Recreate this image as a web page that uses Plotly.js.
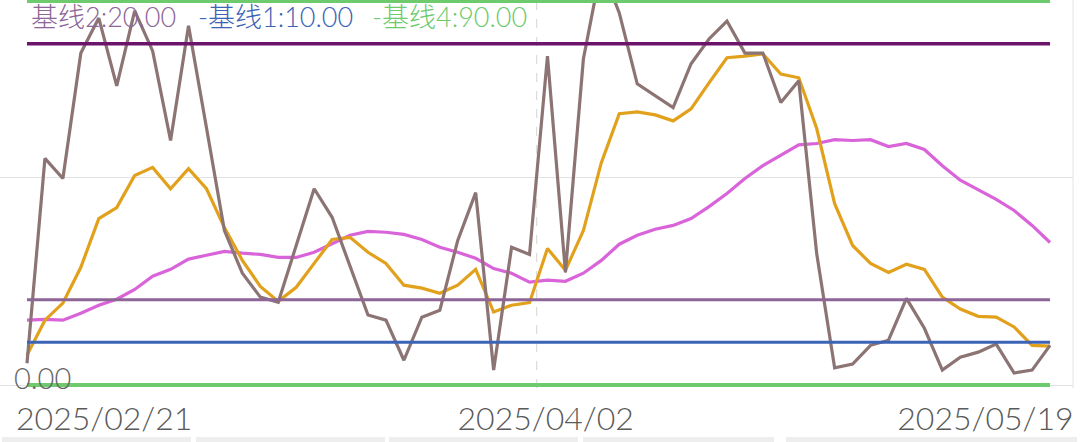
<!DOCTYPE html>
<html><head><meta charset="utf-8">
<script src="https://cdn.plot.ly/plotly-3.0.1.min.js"></script>
<style>html,body{margin:0;padding:0;background:#fff;}#chart{width:1080px;height:442px;}</style>
</head><body><div id="chart"></div>
<script>
// ---- data ----
const tickLabels = ["2025/02/21", "2025/04/02", "2025/05/19"];
const seriesBrown = [5.1,53.1,48.4,77.8,86.0,70.1,87.7,78.3,57.3,84.2,
  60.3,36.2,26.2,20.6,19.4,32.7,46.0,39.3,27.6,16.4,
  15.2,5.8,15.9,17.5,33.9,45.1,3.5,32.3,30.6,77.1,
  26.4,76.4,98.0,87.2,70.6,67.8,65.0,75.3,81.1,85.3,
  77.8,77.8,66.2,71.3,30.8,4.0,4.9,9.3,10.5,20.3,
  13.3,3.5,6.5,7.7,9.6,2.8,3.5,9.3];
const seriesOrange = [7.0,15.2,19.2,27.6,39.0,41.6,49.1,51.0,46.0,50.7,
  46.0,36.9,29.2,23.1,19.6,22.9,28.5,34.1,34.6,31.1,
  28.5,23.4,22.7,21.5,23.4,27.1,17.1,18.7,19.3,32.0,
  26.9,36.2,52.1,63.6,64.0,63.3,61.9,64.7,70.8,76.7,
  77.1,77.6,72.9,72.0,60.1,42.5,32.7,28.5,26.4,28.3,
  27.1,20.6,17.8,16.1,15.9,13.6,9.3,9.1];
const seriesMagenta = [15.2,15.4,15.2,16.8,18.7,20.1,22.4,25.5,27.1,29.5,
  30.4,31.3,30.9,30.6,29.9,29.9,31.1,33.2,35.1,36.0,
  35.8,35.3,34.1,32.3,31.1,29.7,27.3,26.2,24.1,24.6,
  24.3,26.2,29.2,33.0,35.1,36.5,37.4,39.0,41.8,44.9,
  48.4,51.4,53.8,56.3,56.6,57.5,57.3,57.5,55.9,56.6,
  55.2,51.4,48.0,45.8,43.5,40.9,37.4,33.4];
const baselineNames = ["基线1", "基线2", "基线3", "基线4", "基线0"];
const baselineValues = [10, 20, 80, 90, 0];
const legendOrder = ["基线2", "基线1", "基线4"];
const yTickLabel = "0.00";

// ---- styles ----
const FONT = "Lato, 'Noto Sans CJK SC', sans-serif";
const baselineColors = {"基线1":"#3b63b6","基线2":"#8d6597","基线3":"#6c146c","基线4":"#6dca6d","基线0":"#6dca6d"};
const baselineWidths = {"基线1":3,"基线2":3,"基线3":3.5,"基线4":4,"基线0":4};
const idx = seriesBrown.map((_, i) => i);
const n = idx.length;

const traces = [];
[[seriesMagenta, "#d964d9"], [seriesOrange, "#e2a11c"], [seriesBrown, "#8c7474"]].forEach(([s, c]) => {
  traces.push({x: idx, y: s, type: "scatter", mode: "lines", line: {color: c, width: 3.2}, showlegend: false, hoverinfo: "skip"});
});
baselineNames.forEach((nm, i) => {
  traces.push({x: [idx[0], idx[n - 1]], y: [baselineValues[i], baselineValues[i]], type: "scatter", mode: "lines",
    name: nm, line: {color: baselineColors[nm], width: baselineWidths[nm]}, showlegend: false, hoverinfo: "skip"});
});

const W = 1073, PH = 388;
const legendX = [29, 196, 370];
const annotations = legendOrder.map((nm, j) => {
  const v = baselineValues[baselineNames.indexOf(nm)];
  return {xref: "paper", yref: "paper", x: legendX[j] / W, y: 1 - 17 / PH, xanchor: "left", yanchor: "middle",
    text: (j > 0 ? "-" : "") + nm + ":" + v.toFixed(2), showarrow: false,
    font: {family: FONT, size: 27, color: baselineColors[nm], weight: 300}};
});
annotations.push({xref: "paper", yref: "paper", x: 12 / W, y: (PH - 377) / PH, xanchor: "left", yanchor: "middle",
  text: yTickLabel, showarrow: false, font: {family: FONT, size: 29, color: "#666666", weight: 300}});

const boxes = [[2,191],[196,385],[389,578],[583,774],[786,1077]];
const shapes = [
  {type: "line", xref: "x", yref: "paper", x0: 28.4, x1: 28.4, y0: 0, y1: 1, line: {color: "#d4d4d4", width: 1, dash: "dash"}, layer: "below"},
  {type: "line", xref: "paper", yref: "paper", x0: 1, x1: 1, y0: 0, y1: 1, line: {color: "#e4e4e4", width: 1}, layer: "below"}
].concat(boxes.map(b => ({type: "rect", xref: "paper", yref: "paper", x0: b[0] / W, x1: b[1] / W,
  y0: (PH - 448) / PH, y1: (PH - 437) / PH, line: {width: 0}, fillcolor: "#eeeeee"})));

const pxPerUnit = 384 / 90;
const layout = {
  width: 1080, height: 442,
  margin: {l: 0, r: 7, t: 0, b: 54},
  paper_bgcolor: "#ffffff", plot_bgcolor: "#ffffff",
  showlegend: false,
  xaxis: {range: [-1.504, 58.28], showgrid: false, zeroline: false, showline: false, ticks: "",
    tickvals: [4.3, 28.9, 53.4], ticktext: tickLabels, ticklabelstandoff: 9,
    tickfont: {family: FONT, size: 32, color: "#5a5a5a", weight: 300}},
  yaxis: {range: [-3 / pxPerUnit, 90 + 1 / pxPerUnit], tickvals: [0, 48.7], showticklabels: false,
    showgrid: true, gridcolor: "#e2e2e2", gridwidth: 1, zeroline: false, showline: false, ticks: ""},
  annotations: annotations,
  shapes: shapes
};
Plotly.newPlot("chart", traces, layout, {displayModeBar: false, staticPlot: true});
</script></body></html>
